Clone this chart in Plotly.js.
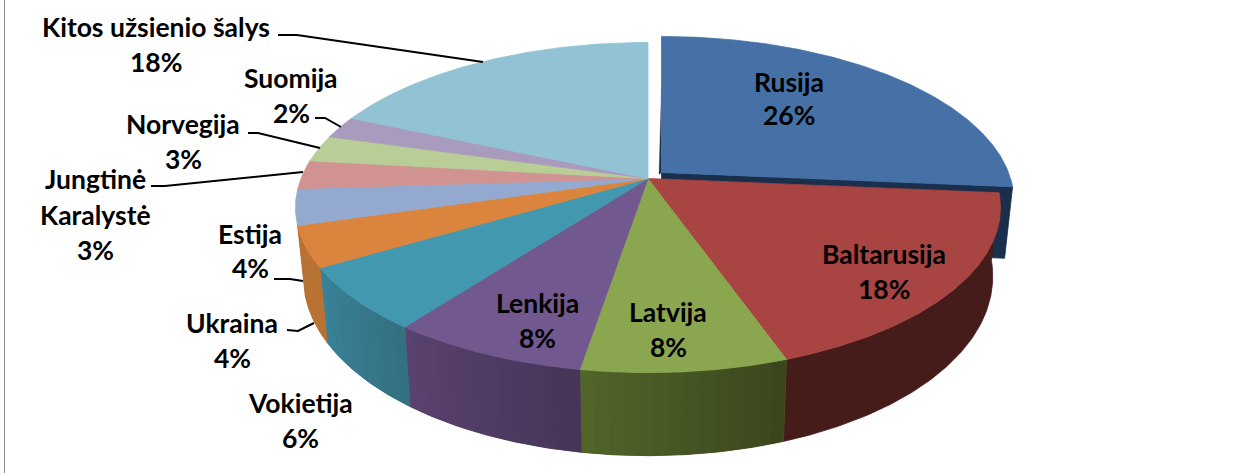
<!DOCTYPE html>
<html><head><meta charset="utf-8">
<script src="https://cdn.plot.ly/plotly-3.0.1.min.js"></script>
<style>html,body{margin:0;padding:0;background:#fff;overflow:hidden}#chart{width:1237px;height:473px}</style>
</head><body><div id="chart"></div>
<script>
// ---- data ----
var categories = ["Rusija","Baltarusija","Latvija","Lenkija","Vokietija","Ukraina","Estija","Jungtinė Karalystė","Norvegija","Suomija","Kitos užsienio šalys"];
var shares     = [26.4,18.2,8.0,7.7,6.2,4.0,3.5,2.8,2.6,2.2,18.4];
var topColors  = ["#4571a7","#a84442","#8aa64e","#71588f","#4198af","#db843d","#93a9cf","#d19392","#b9cd96","#a99bbd","#91c3d5"];
// wall shades, listed clockwise (right end of each front wall first)
var wallStart  = ["#1a2f4c","#451c1a","#3a451d","#463557","#34707f","#b87333","#7d90b0","#b27d7c","#9dae80","#9084a1","#7ba6b5"];
var wallEnd    = ["#1a2f4c","#451c1a","#526629","#5a4270","#39829a","#b87236","#7d90b0","#b27d7c","#9dae80","#9084a1","#7ba6b5"];
var nameLines  = [["Rusija"],["Baltarusija"],["Latvija"],["Lenkija"],["Vokietija"],["Ukraina"],["Estija"],["Jungtinė","Karalystė"],["Norvegija"],["Suomija"],["Kitos užsienio šalys"]];
// label line centres, separate from values
var labelX = [789,884,668,537,300,232,250,95,183,291,156];
var labelY = [[82,115],[254,289],[312,347],[303,338],[403,438],[323,358],[234,268],[179,215,250],[124,159],[78,113],[27,62]];
// leader lines (label to slice)
var leaderX = [[278,297,483],[315,325,341],[248,258,320],[151,165,303],[274,290,303],[287,298,314]];
var leaderY = [[35,35,62],[118,118,127],[133,133,148],[186,186,172],[279,279,281],[330,331,323]];

// ---- projection of the tilted pie ----
var CX=648, CY=178.5, RA=347, RB=160, PERSP=0.176;
var explodeX=13.5, explodeY=-6;
function rim(deg,dx,dy){
  var t=deg*Math.PI/180, u=Math.sin(t), v=-Math.cos(t), w=1-PERSP*v;
  return [CX+RA*u/w+(dx||0), CY+RB*v/w+(dy||0), v];
}
function lower(p,extra){ // matching point on the bottom rim
  var v=Math.max(p[2],0);
  return [CX+(p[0]-CX)*0.978, p[1]+66+17*v+(extra||0), p[2]];
}
function lerpColor(a,b,f){
  var pa=parseInt(a.slice(1),16), pb=parseInt(b.slice(1),16), out=[16,8,0].map(function(s){
    var ca=(pa>>s)&255, cb=(pb>>s)&255; return Math.round(ca+(cb-ca)*f);});
  return "rgb("+out.join(",")+")";
}
var traces=[];
function poly(pts,color,name,lw){
  traces.push({type:"scatter",mode:"lines",x:pts.map(function(p){return p[0]}).concat(pts[0][0]),
    y:pts.map(function(p){return p[1]}).concat(pts[0][1]),fill:"toself",fillcolor:color,
    line:{color:color,width:lw===undefined?0.8:lw},hoverinfo:"skip",showlegend:false,name:name});
}
// cumulative angles
var angles=[0]; shares.forEach(function(s,i){angles.push(angles[i]+s*3.6)});

function topPts(i,dx,dy){
  var pts=[[CX+(dx||0),CY+(dy||0)]];
  for(var d=angles[i];d<angles[i+1];d+=0.5) pts.push(rim(d,dx,dy));
  pts.push(rim(angles[i+1],dx,dy));
  return pts;
}
function arc(a,b){
  var pts=[]; for(var d=a;d<b;d+=0.5) pts.push(rim(d)); pts.push(rim(b)); return pts;
}
// exploded first slice: hidden faces first
var endR=rim(angles[1],explodeX,explodeY), startR=rim(0,explodeX,explodeY), apexR=[CX+explodeX,CY+explodeY,0];
poly([apexR,endR,lower(endR,4),lower(apexR,4)],wallStart[0],categories[0]);
poly([apexR,[startR[0],startR[1]+50],[apexR[0]-2.5,apexR[1]+2]],wallStart[0],categories[0],0.3);
poly(topPts(0,explodeX,explodeY),topColors[0],categories[0]);

// outer walls, back to front (only walls that show from this view)
for(var i=1;i<=5;i++){
  var whole=arc(angles[i],angles[i+1]);
  poly(whole.concat(whole.map(function(p){return lower(p)}).reverse()),lerpColor(wallStart[i],wallEnd[i],0.5),categories[i]);
  var n=Math.max(2,Math.round((angles[i+1]-angles[i])/2));
  if(wallStart[i]===wallEnd[i]) continue;
  for(var k=0;k<n;k++){
    var a=angles[i]+(angles[i+1]-angles[i])*k/n, b=angles[i]+(angles[i+1]-angles[i])*(k+1)/n, pts=arc(a,b);
    poly(pts.concat(pts.map(function(p){return lower(p)}).reverse()),lerpColor(wallStart[i],wallEnd[i],(k+0.5)/n),categories[i],0);
  }
}
// top faces
for(var j=1;j<shares.length;j++) poly(topPts(j),topColors[j],categories[j]);

// leader lines
leaderX.forEach(function(lx,i){
  traces.push({type:"scatter",mode:"lines",x:lx,y:leaderY[i],line:{color:"#000",width:2},hoverinfo:"skip",showlegend:false});
});

// labels
var FONT={family:"Lato, Carlito, sans-serif",size:26.5,color:"#000"};
var annotations=[];
categories.forEach(function(c,i){
  var lines=nameLines[i].concat([Math.round(shares[i])+"%"]);
  lines.forEach(function(t,k){
    annotations.push({xref:"x",yref:"y",x:labelX[i],y:labelY[i][k],text:"<b>"+t+"</b>",showarrow:false,
      xanchor:"center",yanchor:"middle",font:FONT});
  });
});
var layout={width:1237,height:473,margin:{l:0,r:0,t:0,b:0},paper_bgcolor:"#fff",plot_bgcolor:"#fff",
  xaxis:{range:[0,1237],visible:false,fixedrange:true},
  yaxis:{range:[473,0],visible:false,fixedrange:true},
  showlegend:false,annotations:annotations,
  shapes:[{type:"line",xref:"x",yref:"y",x0:4.5,x1:4.5,y0:0,y1:473,line:{color:"#8c8c8c",width:1}}]};
Plotly.newPlot("chart",traces,layout,{displayModeBar:false,staticPlot:true});
</script></body></html>
